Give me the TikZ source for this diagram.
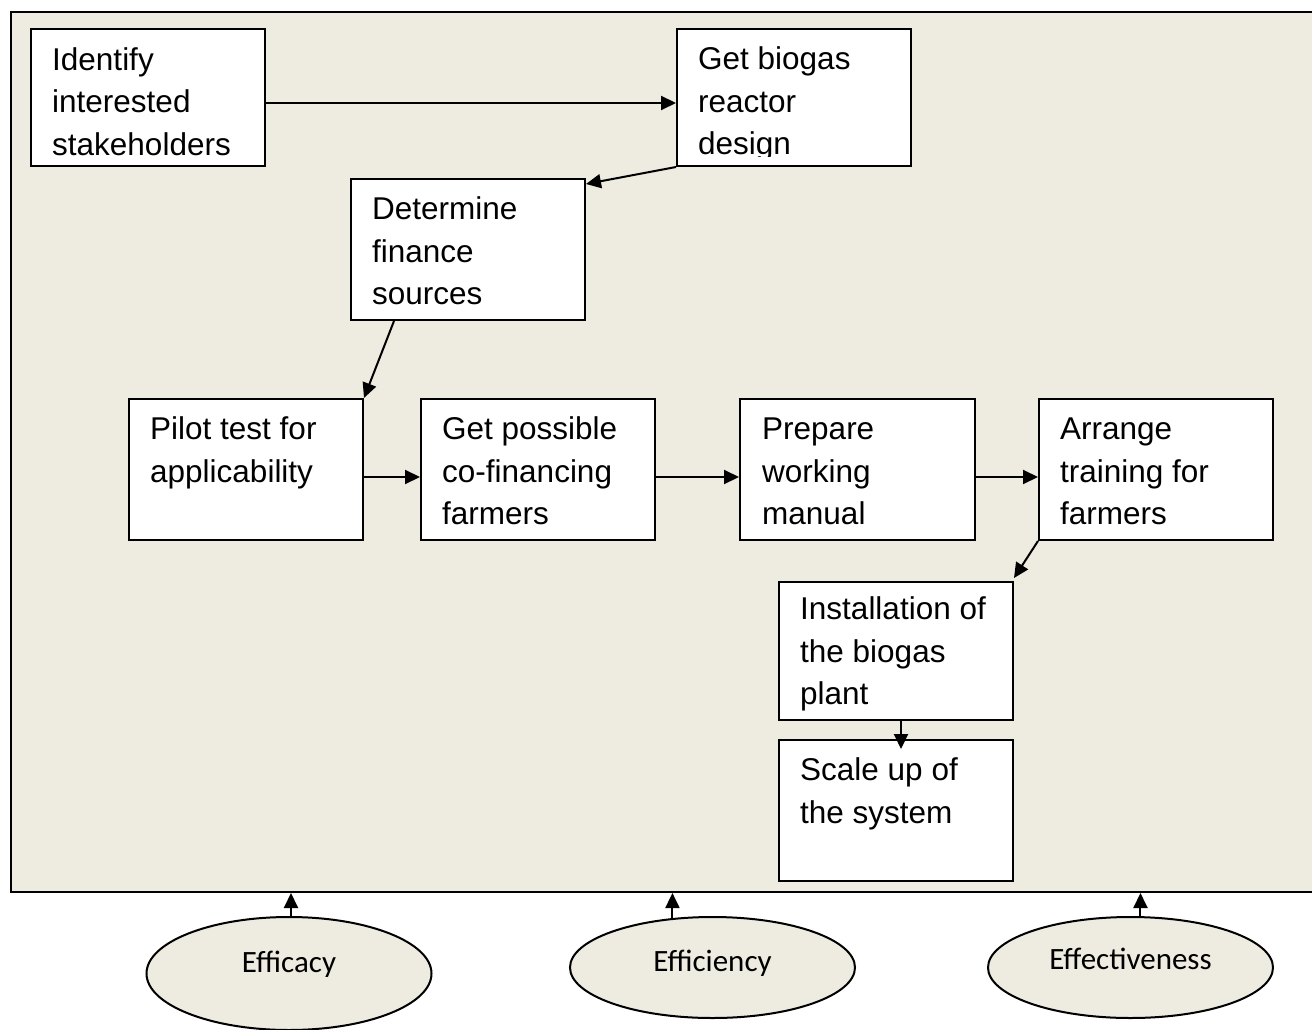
\documentclass[tikz,border=0pt]{standalone}
\usepackage{fontspec}
\setmainfont{Liberation Sans}
\newfontfamily\calibfont{Carlito}
\usetikzlibrary{arrows.meta,shapes.geometric}
\definecolor{bgtan}{HTML}{EEECE1}
\begin{document}
\begin{tikzpicture}[x=1pt,y=-1pt,
  box/.style={draw=black, line width=2pt, fill=white, inner sep=0, minimum width=234pt, minimum height=141pt},
  txt/.style={inner sep=0, anchor=north west, align=left, font=\fontsize{31.5}{42.5}\selectfont},
  ell/.style={ellipse, draw=black, line width=2pt, fill=bgtan, inner sep=0, minimum width=285pt, minimum height=101pt, text height=21pt, font=\calibfont\fontsize{31}{36}\selectfont},
  arr/.style={line width=2pt, -{Triangle[length=15pt,width=14pt]}}]
\useasboundingbox (0,0) rectangle (1312,1030);
% frame
\fill[bgtan] (11,12) rectangle (1320,892);
\draw[line width=2.5pt] (1320,12) -- (11,12) -- (11,892) -- (1320,892);
% boxes
\node[box, minimum height=137pt] (A) at (148,97.5) {};
\node[box, minimum height=137pt] (B) at (794,97.5) {};
\node[box] (C) at (468,249.5) {};
\node[box] (D) at (246,469.5) {};
\node[box] (E) at (538,469.5) {};
\node[box, minimum width=235pt] (F) at (857.5,469.5) {};
\node[box] (G) at (1156,469.5) {};
\node[box, minimum height=138pt] (H) at (896,651) {};
\node[box] (I) at (896,810.5) {};
% texts
\node[txt] (At) at (52,40.25) {\strut Identify\\interested\\stakeholders};
\begin{scope}
\clip (677,29) rectangle (911,156.5);
\node[txt] (Bt) at (698,40) {\strut Get biogas\\reactor\\design};
\end{scope}
\node[txt] (Ct) at (372,190) {\strut Determine\\finance\\sources};
\node[txt] (Dt) at (150,410) {\strut Pilot test for\\applicability};
\node[txt] (Et) at (442,410) {\strut Get possible\\co-financing\\farmers};
\node[txt] (Ft) at (762,410) {\strut Prepare\\working\\manual};
\node[txt] (Gt) at (1060,410) {\strut Arrange\\training for\\farmers};
\node[txt] (Ht) at (800,590) {\strut Installation of\\the biogas\\plant};
\node[txt] (It) at (800,751) {\strut Scale up of\\the system};
% connectors
\draw[arr] ([yshift=-5.5pt]A.east) -- ([yshift=-5.5pt]B.west);
\draw[arr] (B.south west) -- ([yshift=-6pt]C.north east);
\draw[arr] ([xshift=44pt]C.south west) -- (D.north east);
\draw[arr] ([yshift=-7.5pt]D.east) -- ([yshift=-7.5pt]E.west);
\draw[arr] ([yshift=-7.5pt]E.east) -- ([yshift=-7.5pt]F.west);
\draw[arr] ([yshift=-7.5pt]F.east) -- ([yshift=-7.5pt]G.west);
\draw[arr] (G.south west) -- ([yshift=3pt]H.north east);
\draw[arr] ([xshift=5pt]H.south) -- ([xshift=5pt,yshift=-10pt]I.north);
% ellipses
\node[ell, minimum height=113pt, text depth=23pt] (e1) at (289,973.5) {Efficacy};
\node[ell, text depth=14pt] (e2) at (712.5,967.5) {Efficiency};
\node[ell, text depth=18pt] (e3) at (1130.5,967.5) {Effectiveness};
\coordinate (b1) at (291,893);
\coordinate (b2) at (673,893);
\coordinate (b3) at (1140,893);
\draw[arr] (e1.north -| b1) -- (b1);
\draw[arr] (e2.129) -- (e2.129 |- b2);
\draw[arr] (e3.79) -- (e3.79 |- b3);
\end{tikzpicture}
\end{document}
